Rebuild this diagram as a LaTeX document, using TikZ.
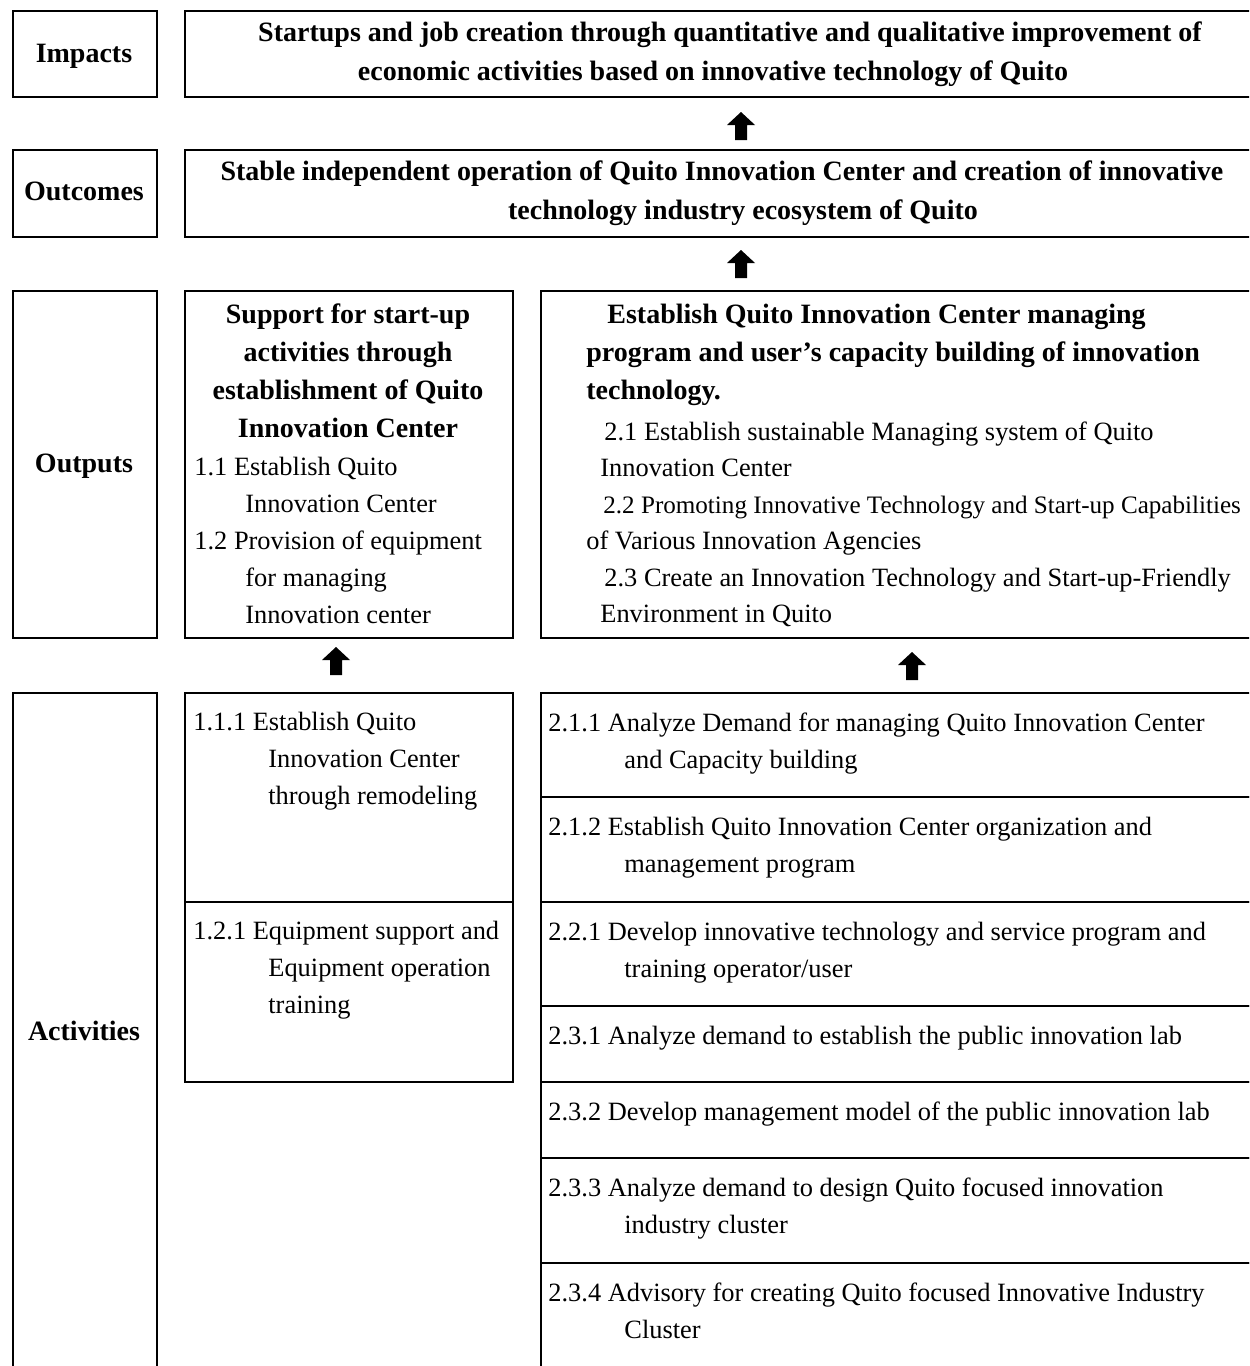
\documentclass[tikz,border=0pt]{standalone}
\usepackage{fontspec}
\setmainfont{Liberation Serif}
\begin{document}
\begin{tikzpicture}[x=0.5pt,y=-0.5pt,
  box/.style={draw=black,line width=0.75pt,rectangle,inner sep=0pt,anchor=north west},
  reg/.style={font=\fontsize{13.2}{18}\selectfont,inner sep=0pt},
  regs/.style={font=\fontsize{12.55}{18}\selectfont,inner sep=0pt},
  bld/.style={font=\bfseries\fontsize{14}{19}\selectfont,inner sep=0pt},
  uparr/.pic={\fill[black] (0,0) -- (14,13) -- (6,13) -- (6,28) -- (-6,28) -- (-6,13) -- (-14,13) -- cycle;}
]
\useasboundingbox (0,0) rectangle (1249,1366);
\clip (0,0) rectangle (1249,1366);

% ---------- label column ----------
\node[box,minimum width=72pt,minimum height=43pt] (impL) at (12,10) {};
\node[box,minimum width=72pt,minimum height=43.5pt] (outL) at (12,149) {};
\node[box,minimum width=72pt,minimum height=173.5pt] (opL) at (12,290) {};
\node[box,minimum width=72pt,minimum height=350pt] (actL) at (12,692) {};

\node[bld,anchor=base] (tImp) at (84,62) {Impacts};
\node[bld,anchor=base] (tOut) at (84,200) {Outcomes};
\node[bld,anchor=base] (tOpt) at (84,472) {Outputs};
\node[bld,anchor=base] (tAct) at (84,1040) {Activities};

% ---------- impacts / outcomes ----------
\node[box,minimum width=539pt,minimum height=43pt] (impC) at (184,10) {};
\node[box,minimum width=539pt,minimum height=43.5pt] (outC) at (184,149) {};

\node[bld,anchor=base] (i1) at (730,41) {Startups and job creation through quantitative and qualitative improvement of};
\node[bld,anchor=base] (i2) at (713,80) {economic activities based on innovative technology of Quito};
\node[bld,anchor=base] (o1) at (722,180) {Stable independent operation of Quito Innovation Center and creation of innovative};
\node[bld,anchor=base] (o2) at (743,219) {technology industry ecosystem of Quito};

% ---------- outputs ----------
\node[box,minimum width=164pt,minimum height=173.5pt] (op1) at (184,290) {};
\node[box,minimum width=361pt,minimum height=173.5pt] (op2) at (540,290) {};

\node[bld,anchor=base] (p1a) at (348,323) {Support for start-up};
\node[bld,anchor=base] (p1b) at (348,361) {activities through};
\node[bld,anchor=base] (p1c) at (348,399) {establishment of Quito};
\node[bld,anchor=base] (p1d) at (348,437) {Innovation Center};
\node[reg,anchor=base west] (p1e) at (194,475) {1.1 Establish Quito};
\node[reg,anchor=base west] (p1f) at (245,512) {Innovation Center};
\node[reg,anchor=base west] (p1g) at (194,549) {1.2 Provision of equipment};
\node[reg,anchor=base west] (p1h) at (245,586) {for managing};
\node[reg,anchor=base west] (p1i) at (245,623) {Innovation center};

\node[bld,anchor=base west] (p2a) at (607,323) {Establish Quito Innovation Center managing};
\node[bld,anchor=base west] (p2b) at (586,361) {program and user’s capacity building of innovation};
\node[bld,anchor=base west] (p2c) at (586,399) {technology.};
\node[reg,anchor=base west] (p2d) at (604,440) {2.1 Establish sustainable Managing system of Quito};
\node[reg,anchor=base west] (p2e) at (600,476) {Innovation Center};
\node[regs,anchor=base west] (p2f) at (603,513) {2.2 Promoting Innovative Technology and Start-up Capabilities};
\node[reg,anchor=base west] (p2g) at (586,549) {of Various Innovation Agencies};
\node[reg,anchor=base west] (p2h) at (604,586) {2.3 Create an Innovation Technology and Start-up-Friendly};
\node[reg,anchor=base west] (p2i) at (600,622) {Environment in Quito};

% ---------- activities, column 1 ----------
\node[box,minimum width=164pt,minimum height=104.5pt] (a11) at (184,692) {};
\node[box,minimum width=164pt,minimum height=90pt] (a12) at (184,901) {};

\node[reg,anchor=base west] (a11a) at (193,730) {1.1.1 Establish Quito};
\node[reg,anchor=base west] (a11b) at (268,767) {Innovation Center};
\node[reg,anchor=base west] (a11c) at (268,804) {through remodeling};
\node[reg,anchor=base west] (a12a) at (193,939) {1.2.1 Equipment support and};
\node[reg,anchor=base west] (a12b) at (268,976) {Equipment operation};
\node[reg,anchor=base west] (a12c) at (268,1013) {training};

% ---------- activities, column 2 ----------
\node[box,minimum width=361pt,minimum height=52pt] (b211) at (540,692) {};
\node[box,minimum width=361pt,minimum height=52.5pt] (b212) at (540,796) {};
\node[box,minimum width=361pt,minimum height=52pt] (b221) at (540,901) {};
\node[box,minimum width=361pt,minimum height=38pt] (b231) at (540,1005) {};
\node[box,minimum width=361pt,minimum height=38pt] (b232) at (540,1081) {};
\node[box,minimum width=361pt,minimum height=52.5pt] (b233) at (540,1157) {};
\node[box,minimum width=361pt,minimum height=80pt] (b234) at (540,1262) {};

\node[reg,anchor=base west] (c1a) at (548,731) {2.1.1 Analyze Demand for managing Quito Innovation Center};
\node[reg,anchor=base west] (c1b) at (624,768) {and Capacity building};
\node[reg,anchor=base west] (c2a) at (548,835) {2.1.2 Establish Quito Innovation Center organization and};
\node[reg,anchor=base west] (c2b) at (624,872) {management program};
\node[reg,anchor=base west] (c3a) at (548,940) {2.2.1 Develop innovative technology and service program and};
\node[reg,anchor=base west] (c3b) at (624,977) {training operator/user};
\node[reg,anchor=base west] (c4a) at (548,1044) {2.3.1 Analyze demand to establish the public innovation lab};
\node[reg,anchor=base west] (c5a) at (548,1120) {2.3.2 Develop management model of the public innovation lab};
\node[reg,anchor=base west] (c6a) at (548,1196) {2.3.3 Analyze demand to design Quito focused innovation};
\node[reg,anchor=base west] (c6b) at (624,1233) {industry cluster};
\node[reg,anchor=base west] (c7a) at (548,1301) {2.3.4 Advisory for creating Quito focused Innovative Industry};
\node[reg,anchor=base west] (c7b) at (624,1338) {Cluster};

% ---------- block arrows ----------
\pic (ar1) at (741,112) {uparr};
\pic (ar2) at (741,250) {uparr};
\pic (ar3) at (336,647) {uparr};
\pic (ar4) at (912,652) {uparr};
\end{tikzpicture}
\end{document}
